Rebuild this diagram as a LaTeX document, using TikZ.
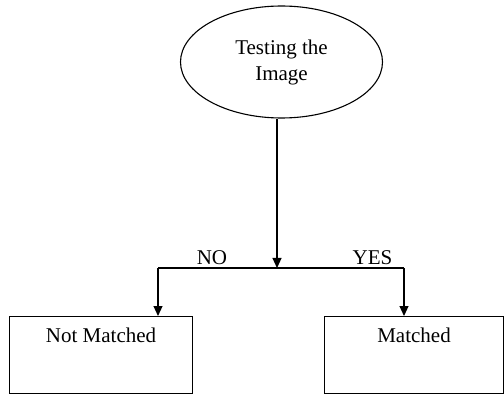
\documentclass[tikz,border=0pt]{standalone}
\usepackage{fontspec}
\setmainfont{Liberation Serif}
\usetikzlibrary{shapes.geometric,arrows.meta}
\begin{document}
\begin{tikzpicture}[x=1pt,y=1pt,
  line width=1.1pt,
  txt/.style={font=\fontsize{21}{26}\selectfont},
  oval/.style={draw, ellipse, minimum width=202pt, minimum height=112pt, inner sep=0pt, align=center, txt},
  resultbox/.style={draw, rectangle, minimum width=183pt, inner xsep=0pt, inner ysep=4pt,
                    text height=22pt, text depth=47pt, txt},
  flow/.style={-{Triangle[length=10pt,width=9pt]}},
  branchlabel/.style={anchor=base, inner sep=0pt, txt}]
\useasboundingbox (0,0) rectangle (504,397);
% decision ellipse
\node[oval] (test) at (281.5,335) {Testing the\\Image};
% outcome boxes
\node[resultbox, anchor=north west] (nm) at (9,81) {Not Matched};
\node[resultbox, anchor=north west, minimum width=179pt] (m) at (324,81) {Matched};
% branching point and corners
\coordinate (split) at (277,129);
\coordinate (lc) at (158,129);
\coordinate (rc) at (404,129);
\draw[flow] (test.south -| split) -- (split);
\draw (lc) -- (rc);
\draw[flow] (lc) -- (lc |- nm.north);
\draw[flow] (rc) -- (rc |- m.north);
% branch labels
\node[branchlabel] (no) at (212,132) {NO};
\node[branchlabel] (yes) at (372.5,132) {YES};
\end{tikzpicture}
\end{document}
